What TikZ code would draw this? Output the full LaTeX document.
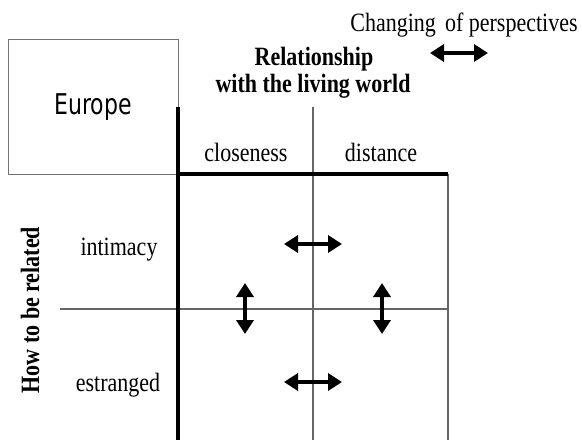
\documentclass[tikz,border=0pt]{standalone}
\usepackage{graphicx}
\usepackage{fontspec}
\setmainfont{Liberation Serif}
\newfontfamily\gothicfont{DejaVu Sans}
\usetikzlibrary{arrows.meta,positioning}

\newcommand{\tallt}[1]{\scalebox{1}[1.2]{#1}}

\tikzset{
  txt/.style={font=\fontsize{22}{27}\selectfont, inner sep=0pt},
  headtxt/.style={font=\bfseries\fontsize{22}{27}\selectfont, inner sep=0pt},
  thinline/.style={draw=black!60, line width=1.2pt},
  boldline/.style={line width=3.2pt},
  swaparrow/.style={{Triangle[length=14pt,width=17pt]}-{Triangle[length=14pt,width=17pt]}, line width=4.6pt}
}

\begin{document}
\begin{tikzpicture}[x=1pt, y=-1pt]
  \useasboundingbox (0,0) rectangle (582,440);
  % area box
  \node[draw=black!55, line width=1pt, minimum width=170pt, minimum height=135pt, inner sep=0pt] (box) at (93,106.5) {};
  \node[font=\gothicfont\fontsize{22}{27}\selectfont, inner sep=0pt] (europe) at (93,107) {\scalebox{1}[1.3]{Europe}};
  % grid
  \coordinate (gtop) at (178,107);
  \coordinate (gbot) at (178,440);
  \coordinate (mtop) at (313,107);
  \coordinate (mbot) at (313,440);
  \coordinate (hl) at (178,174);
  \coordinate (hr) at (448,174);
  \coordinate (rbot) at (448,440);
  \coordinate (ml) at (60,309);
  \coordinate (mr) at (448,309);
  \draw[thinline] (mtop) -- (mbot);
  \draw[thinline] (hr) -- (rbot);
  \draw[thinline] (ml) -- (mr);
  \draw[boldline] (gtop) -- (gbot);
  \draw[boldline] (hl) -- (hr);
  % headings
  \node[txt, anchor=base] (legend) at (464,31) {\tallt{Changing\, of perspectives}};
  \node[headtxt, anchor=base] (relation) at (314,65) {\tallt{Relationship}};
  \node[headtxt, anchor=base] (living) at (313,92) {\tallt{with the living world}};
  \node[txt, anchor=base] (close) at (246,161) {\tallt{closeness}};
  \node[txt, anchor=base] (dist) at (381,161) {\tallt{distance}};
  \node[txt, anchor=base] (intim) at (119,255) {\tallt{intimacy}};
  \node[txt, anchor=base] (estr) at (118,391) {\tallt{estranged}};
  \node[headtxt, anchor=base, rotate=90] (howrel) at (39,310) {\tallt{How to be related}};
  % arrows
  \coordinate (la) at (430,53);
  \coordinate (lb) at (488,53);
  \coordinate (ia) at (284,244);
  \coordinate (ib) at (342,244);
  \coordinate (ea) at (284,382);
  \coordinate (eb) at (342,382);
  \coordinate (ca) at (245,283);
  \coordinate (cb) at (245,334);
  \coordinate (da) at (382,283);
  \coordinate (db) at (382,334);
  \draw[swaparrow] (la) -- (lb);
  \draw[swaparrow] (ia) -- (ib);
  \draw[swaparrow] (ea) -- (eb);
  \draw[swaparrow] (ca) -- (cb);
  \draw[swaparrow] (da) -- (db);
\end{tikzpicture}
\end{document}
